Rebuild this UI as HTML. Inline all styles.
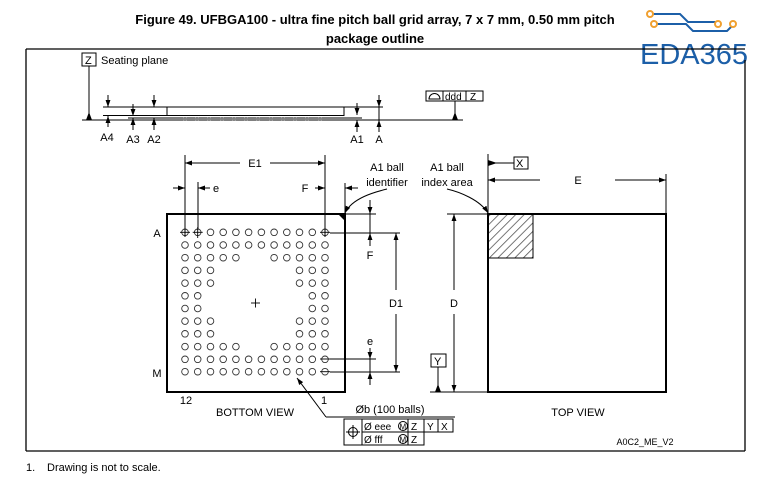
<!DOCTYPE html>
<html><head><meta charset="utf-8"><style>
body{margin:0;background:#fff;}
svg{display:block;font-family:"Liberation Sans",Arial,sans-serif;}
</style></head><body>
<svg width="767" height="480" viewBox="0 0 767 480" xmlns="http://www.w3.org/2000/svg">
<defs>
<marker id="ar" viewBox="0 0 10 10" refX="10" refY="5" markerWidth="7" markerHeight="7" orient="auto-start-reverse"><path d="M0,1.5 L10,5 L0,8.5z" fill="#000"/></marker>
<pattern id="hatch" width="6" height="6" patternUnits="userSpaceOnUse" patternTransform="rotate(45)"><line x1="0" y1="0" x2="0" y2="6" stroke="#555" stroke-width="1.6"/></pattern>
</defs>
<text x="375" y="24" text-anchor="middle" font-size="13" font-weight="bold">Figure 49. UFBGA100 - ultra fine pitch ball grid array, 7 x 7 mm, 0.50 mm pitch</text>
<text x="375" y="43" text-anchor="middle" font-size="13" font-weight="bold">package outline</text>
<!-- logo -->
<g stroke="#1c5fa8" stroke-width="2" fill="none">
<polyline points="652,14 680,14 688,22 716,22"/>
<polyline points="656,24 686,24 693,31 727,31 734,24"/>
</g>
<g fill="#fff" stroke="#f0a030" stroke-width="2"><circle cx="650" cy="14" r="3"/><circle cx="654" cy="24" r="3"/><circle cx="718" cy="24" r="3"/><circle cx="733" cy="24" r="3"/></g>
<text x="640" y="64" font-size="29" fill="#1c5fa8">EDA365</text>
<!-- frame -->
<g stroke="#000" stroke-width="1.3" fill="none">
<polyline points="26,49 745,49"/><line x1="26" y1="49" x2="26" y2="451"/><line x1="745" y1="60" x2="745" y2="451"/><line x1="26" y1="451" x2="745" y2="451"/>
</g>
<!-- side view -->
<rect x="82" y="53" width="14" height="13" fill="none" stroke="#000"/>
<text x="85" y="64" font-size="11">Z</text>
<text x="101" y="64" font-size="11">Seating plane</text>
<g stroke="#000" stroke-width="1" fill="none">
<line x1="89" y1="66" x2="89" y2="118"/>
<line x1="82" y1="120" x2="463" y2="120"/>
<line x1="103" y1="107" x2="383" y2="107"/>
<line x1="103" y1="115.5" x2="344" y2="115.5"/>
<line x1="128" y1="118" x2="362" y2="118"/>
<line x1="167" y1="107" x2="167" y2="116"/>
<line x1="344" y1="107" x2="344" y2="116"/>
<line x1="455" y1="101" x2="455" y2="118"/>
</g>
<g fill="#000"><path d="M86,120 L92,120 L89,112z"/><path d="M452,120 L458,120 L455,112z"/></g>
<g fill="none" stroke="#888" stroke-width="0.8">
<circle cx="185" cy="119" r="1.6"/><circle cx="197" cy="119" r="1.6"/><circle cx="209" cy="119" r="1.6"/><circle cx="222" cy="119" r="1.6"/><circle cx="234" cy="119" r="1.6"/><circle cx="246" cy="119" r="1.6"/><circle cx="258" cy="119" r="1.6"/><circle cx="271" cy="119" r="1.6"/><circle cx="283" cy="119" r="1.6"/><circle cx="295" cy="119" r="1.6"/><circle cx="307" cy="119" r="1.6"/><circle cx="320" cy="119" r="1.6"/>
</g>
<g stroke="#000" stroke-width="1" marker-end="url(#ar)">
<line x1="108" y1="95" x2="108" y2="107"/><line x1="108" y1="127" x2="108" y2="116"/>
<line x1="133" y1="104" x2="133" y2="116"/><line x1="133" y1="130" x2="133" y2="118"/>
<line x1="154" y1="95" x2="154" y2="107"/><line x1="154" y1="130" x2="154" y2="118"/>
<line x1="357" y1="103" x2="357" y2="115"/><line x1="357" y1="132" x2="357" y2="120"/>
<line x1="379" y1="95" x2="379" y2="107"/><line x1="379" y1="132" x2="379" y2="120"/>
</g>
<line x1="379" y1="107" x2="379" y2="120" stroke="#000"/>
<g font-size="11" text-anchor="middle"><text x="107" y="141">A4</text><text x="133" y="143">A3</text><text x="154" y="143">A2</text><text x="357" y="143">A1</text><text x="379" y="143">A</text></g>
<g stroke="#000" fill="none"><rect x="426" y="91" width="57" height="10"/><line x1="443" y1="91" x2="443" y2="101"/><line x1="466" y1="91" x2="466" y2="101"/><path d="M429,99 A5,5 0 0 1 440,99 Z"/></g>
<text x="445" y="100" font-size="10">ddd</text><text x="470" y="100" font-size="10">Z</text>
<!-- bottom view -->
<rect x="167" y="214" width="178" height="178" fill="none" stroke="#000" stroke-width="2"/>
<path d="M338,214 L345,214 L345,221z" fill="#000"/>
<g id="balls" fill="none" stroke="#333" stroke-width="0.9">
<g id="r0"><circle cx="185" cy="232.3" r="3.3"/><circle cx="197.7" cy="232.3" r="3.3"/><circle cx="210.5" cy="232.3" r="3.3"/><circle cx="223.2" cy="232.3" r="3.3"/><circle cx="235.9" cy="232.3" r="3.3"/><circle cx="248.6" cy="232.3" r="3.3"/><circle cx="261.4" cy="232.3" r="3.3"/><circle cx="274.1" cy="232.3" r="3.3"/><circle cx="286.8" cy="232.3" r="3.3"/><circle cx="299.5" cy="232.3" r="3.3"/><circle cx="312.3" cy="232.3" r="3.3"/><circle cx="325" cy="232.3" r="3.3"/></g>
<use href="#r0" y="12.7"/><use href="#r0" y="127"/><use href="#r0" y="139.4"/>
<g id="r2"><circle cx="185" cy="257.7" r="3.3"/><circle cx="197.7" cy="257.7" r="3.3"/><circle cx="210.5" cy="257.7" r="3.3"/><circle cx="223.2" cy="257.7" r="3.3"/><circle cx="235.9" cy="257.7" r="3.3"/><circle cx="274.1" cy="257.7" r="3.3"/><circle cx="286.8" cy="257.7" r="3.3"/><circle cx="299.5" cy="257.7" r="3.3"/><circle cx="312.3" cy="257.7" r="3.3"/><circle cx="325" cy="257.7" r="3.3"/></g>
<use href="#r2" y="88.9"/>
<g id="r3"><circle cx="185" cy="270.4" r="3.3"/><circle cx="197.7" cy="270.4" r="3.3"/><circle cx="210.5" cy="270.4" r="3.3"/><circle cx="299.5" cy="270.4" r="3.3"/><circle cx="312.3" cy="270.4" r="3.3"/><circle cx="325" cy="270.4" r="3.3"/></g>
<use href="#r3" y="12.7"/><use href="#r3" y="50.7"/><use href="#r3" y="63.4"/>
<g id="r5"><circle cx="185" cy="295.8" r="3.3"/><circle cx="197.7" cy="295.8" r="3.3"/><circle cx="312.3" cy="295.8" r="3.3"/><circle cx="325" cy="295.8" r="3.3"/></g>
<use href="#r5" y="12.7"/>
</g>
<g stroke="#000" stroke-width="0.9">
<line x1="180" y1="232.3" x2="190" y2="232.3"/><line x1="192.7" y1="232.3" x2="202.7" y2="232.3"/><line x1="320" y1="232.3" x2="330" y2="232.3"/>
<line x1="320" y1="359" x2="330" y2="359"/><line x1="320" y1="371.7" x2="330" y2="371.7"/>
<line x1="197.7" y1="227" x2="197.7" y2="238"/>
<line x1="251" y1="303" x2="260" y2="303"/><line x1="255.5" y1="298.5" x2="255.5" y2="307.5"/>
</g>
<!-- dims bottom view -->
<g stroke="#000" stroke-width="1" fill="none">
<line x1="185" y1="155" x2="185" y2="237"/><line x1="325" y1="155" x2="325" y2="237"/>
<line x1="198" y1="182" x2="198" y2="229"/>
<line x1="345" y1="183" x2="345" y2="214"/>
<line x1="345" y1="214" x2="376" y2="214"/>
<line x1="330" y1="233" x2="400" y2="233"/>
<line x1="330" y1="359" x2="376" y2="359"/>
<line x1="330" y1="372" x2="400" y2="372"/>
<line x1="370" y1="214" x2="370" y2="233"/>
<line x1="370" y1="359" x2="370" y2="372"/>
<path d="M387,189 C375,192 352,198 345,213" marker-end="url(#ar)"/>
<path d="M447,189 C460,192 480,200 488,213" marker-end="url(#ar)"/>
<line x1="297" y1="378" x2="326" y2="417" marker-start="url(#ar)"/>
<line x1="326" y1="417" x2="455" y2="417"/>
</g>
<g stroke="#000" stroke-width="1" marker-end="url(#ar)">
<line x1="240" y1="163" x2="185" y2="163"/><line x1="270" y1="163" x2="325" y2="163"/>
<line x1="173" y1="188" x2="185" y2="188"/><line x1="210" y1="188" x2="198" y2="188"/>
<line x1="315" y1="188" x2="325" y2="188"/><line x1="358" y1="188" x2="345" y2="188"/>
<line x1="370" y1="200" x2="370" y2="214"/><line x1="370" y1="246" x2="370" y2="233"/>
<line x1="396" y1="290" x2="396" y2="233"/><line x1="396" y1="314" x2="396" y2="372"/>
<line x1="370" y1="348" x2="370" y2="359"/><line x1="370" y1="385" x2="370" y2="372"/>
<line x1="454" y1="290" x2="454" y2="214"/><line x1="454" y1="314" x2="454" y2="392"/>
<line x1="540" y1="180" x2="488" y2="180"/><line x1="615" y1="180" x2="666" y2="180"/>
</g>
<g font-size="11" text-anchor="middle">
<text x="255" y="167">E1</text><text x="216" y="192">e</text><text x="305" y="192">F</text>
<text x="387" y="171">A1 ball</text><text x="387" y="186">identifier</text>
<text x="447" y="171">A1 ball</text><text x="447" y="186">index area</text>
<text x="370" y="259">F</text><text x="396" y="307">D1</text><text x="370" y="345">e</text>
<text x="454" y="307">D</text><text x="578" y="184">E</text>
<text x="157" y="237">A</text><text x="157" y="377">M</text>
<text x="186" y="404">12</text><text x="324" y="404">1</text>
<text x="255" y="416">BOTTOM VIEW</text><text x="578" y="416">TOP VIEW</text>
<text x="390" y="413">Øb (100 balls)</text>
</g>
<!-- top view -->
<g stroke="#000" fill="none">
<line x1="447" y1="214" x2="488" y2="214"/>
<line x1="430" y1="392" x2="488" y2="392"/>
<line x1="488" y1="154" x2="488" y2="214"/>
<line x1="666" y1="174" x2="666" y2="214"/>
<line x1="488" y1="163" x2="514" y2="163"/>
<rect x="514" y="157" width="14" height="12"/>
<rect x="431" y="354" width="15" height="13"/>
<line x1="438" y1="367" x2="438" y2="390"/>
</g>
<path d="M488,160 L497,163 L488,166z" fill="#000"/>
<path d="M435,392 L441,392 L438,384z" fill="#000"/>
<text x="516" y="167" font-size="11">X</text><text x="434" y="365" font-size="11">Y</text>
<rect x="488" y="214" width="45" height="44" fill="url(#hatch)" stroke="#000"/>
<rect x="488" y="214" width="178" height="178" fill="none" stroke="#000" stroke-width="2"/>
<!-- tolerance frame -->
<g stroke="#000" fill="none" stroke-width="1">
<rect x="344" y="419" width="18" height="26"/>
<rect x="362" y="419" width="91" height="13"/>
<rect x="362" y="432" width="62" height="13"/>
<line x1="408" y1="419" x2="408" y2="445"/><line x1="424" y1="419" x2="424" y2="432"/><line x1="438" y1="419" x2="438" y2="432"/>
<circle cx="353" cy="432" r="4.5"/><line x1="346" y1="432" x2="360" y2="432"/><line x1="353" y1="425" x2="353" y2="439"/>
<circle cx="403" cy="426" r="4.5"/><circle cx="403" cy="439" r="4.5"/>
</g>
<g font-size="10"><text x="364" y="430">Ø eee</text><text x="399.5" y="429.5" font-size="8">M</text><text x="411" y="430">Z</text><text x="427" y="430">Y</text><text x="441" y="430">X</text>
<text x="364" y="443">Ø fff</text><text x="399.5" y="442.5" font-size="8">M</text><text x="411" y="443">Z</text></g>
<text x="645" y="445" font-size="9" text-anchor="middle">A0C2_ME_V2</text>
<text x="26" y="471" font-size="11">1.</text><text x="47" y="471" font-size="11">Drawing is not to scale.</text>
</svg>
</body></html>
